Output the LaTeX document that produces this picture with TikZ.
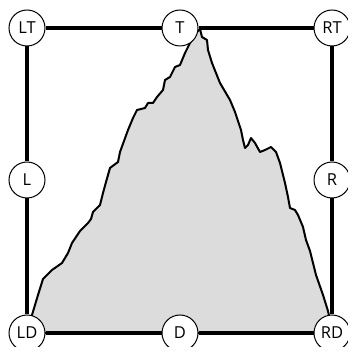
\documentclass[tikz,border=0pt]{standalone}
\usepackage{fontspec}
\setmainfont{Open Sans}
\usetikzlibrary{backgrounds}
\definecolor{mtn}{RGB}{220,220,220}
\tikzset{
  pt/.style={circle, draw=black, fill=white, line width=1pt, minimum size=36pt, inner sep=0pt, font=\fontsize{16.5}{16.5}\selectfont},
  edge/.style={line width=4pt},
  mountain/.style={fill=mtn, draw=black, line width=2pt, line join=round}
}
\begin{document}
\begin{tikzpicture}[x=1pt,y=-1pt]
\useasboundingbox (0,0) rectangle (348,347);
\node[pt] (LT) at (27,28) {LT};
\node[pt] (T) at (180,28) {T};
\node[pt] (RT) at (332,28) {RT};
\node[pt] (L) at (27,180) {L};
\node[pt] (R) at (332,180) {R};
\node[pt] (LD) at (27,333) {LD};
\node[pt] (D) at (180,333) {D};
\node[pt] (RD) at (332,333) {RD};
\begin{scope}[on background layer]
\draw[mountain] (28,333) -- (32,315) -- (38,295) -- (43,279) -- (52,270) -- (62,263) -- (68,253) -- (72,243) -- (80,231) -- (88,223) -- (91,219) -- (93,212) -- (100,205) -- (103,193) -- (106,182) -- (108,175) -- (110,168) -- (118,162) -- (120,152) -- (128,130) -- (133,118) -- (137,110) -- (145,108) -- (148,103) -- (153,103) -- (157,97) -- (163,90) -- (165,80) -- (170,77) -- (175,67) -- (180,65) -- (185,53) -- (190,43) -- (196,33) -- (200,29) -- (202,37) -- (207,40) -- (208,50) -- (212,63) -- (220,83) -- (230,100) -- (235,112) -- (241,130) -- (243,140) -- (245,148) -- (248,145) -- (251,138) -- (255,143) -- (260,152) -- (265,150) -- (271,147) -- (276,152) -- (280,163) -- (285,183) -- (288,197) -- (290,208) -- (295,210) -- (298,215) -- (303,227) -- (306,240) -- (310,251) -- (316,275) -- (323,295) -- (328,311) -- (331,325) -- (332,333) -- cycle;
\draw[edge] (LT) -- (T) -- (RT) -- (R) -- (RD) -- (D) -- (LD) -- (L) -- (LT);
\end{scope}
\end{tikzpicture}
\end{document}
